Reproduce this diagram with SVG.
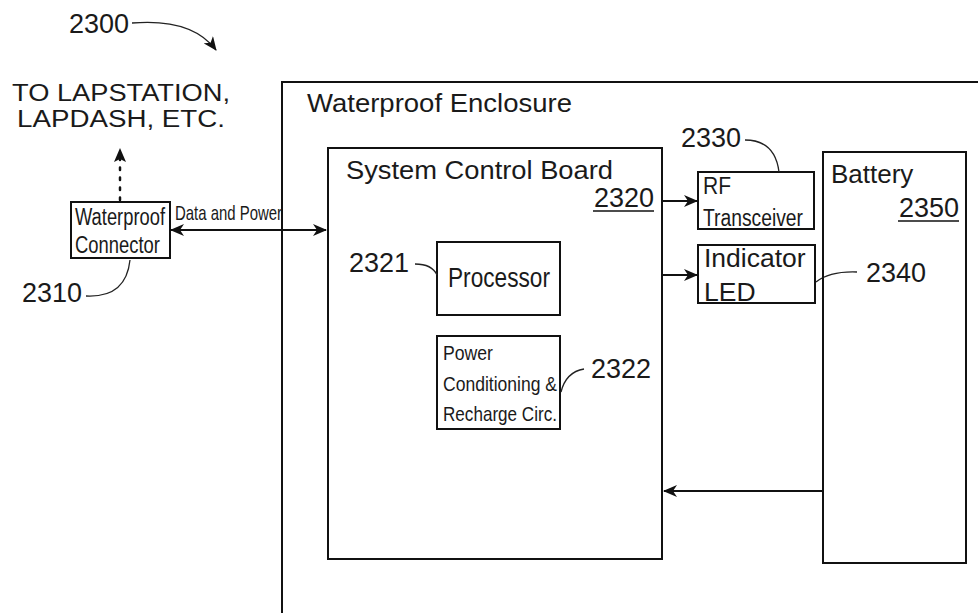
<svg xmlns="http://www.w3.org/2000/svg" width="978" height="613" viewBox="0 0 978 613">
<defs>
<style>
.box{fill:none;stroke:#111;stroke-width:2}
.t{font-family:"Liberation Sans",Arial,sans-serif;fill:#1a1a1a}
.lead{fill:none;stroke:#222;stroke-width:1.3}
.conn{fill:none;stroke:#111;stroke-width:2}
.u{stroke:#111;stroke-width:1.5}
</style>
<marker id="ah" viewBox="0 0 14 12" refX="13" refY="6" markerWidth="14" markerHeight="12" markerUnits="userSpaceOnUse" orient="auto-start-reverse">
<path d="M0,0 L14,6 L0,12 L4,6 Z" fill="#111"/>
</marker>
</defs>
<rect width="978" height="613" fill="#fff"/>

<g id="label-2300">
<text class="t" x="69" y="33" font-size="27">2300</text>
<path class="lead" d="M132,23 Q192,18 216,50" marker-end="url(#ah)"/>
</g>

<g id="to-lapstation">
<text class="t" x="12" y="101" font-size="23.5" textLength="218" lengthAdjust="spacingAndGlyphs">TO LAPSTATION,</text>
<text class="t" x="17" y="127" font-size="23.5" textLength="208" lengthAdjust="spacingAndGlyphs">LAPDASH, ETC.</text>
</g>

<g id="enclosure">
<rect class="box" x="282" y="82" width="720" height="560"/>
<text class="t" x="307" y="112" font-size="26" textLength="265" lengthAdjust="spacingAndGlyphs">Waterproof Enclosure</text>
</g>

<g id="connector-2310">
<rect class="box" x="71" y="202" width="99" height="56"/>
<text class="t" x="75" y="225" font-size="23" textLength="90" lengthAdjust="spacingAndGlyphs">Waterproof</text>
<text class="t" x="75" y="253" font-size="23" textLength="85" lengthAdjust="spacingAndGlyphs">Connector</text>
<text class="t" x="22" y="302" font-size="27">2310</text>
<path class="lead" d="M86,296 Q126,298 130,260"/>
</g>

<g id="scb-2320">
<rect class="box" x="328" y="148" width="334" height="411"/>
<text class="t" x="346" y="179" font-size="26.5" textLength="267" lengthAdjust="spacingAndGlyphs">System Control Board</text>
<text class="t" x="654" y="207" font-size="27" text-anchor="end">2320</text>
<line class="u" x1="593" y1="211" x2="654" y2="211"/>
</g>

<g id="processor-2321">
<rect class="box" x="437" y="242" width="123" height="73"/>
<text class="t" x="448" y="287" font-size="27" textLength="102" lengthAdjust="spacingAndGlyphs">Processor</text>
<text class="t" x="349" y="272" font-size="27">2321</text>
<path class="lead" d="M415,264 Q432,264 437,275"/>
</g>

<g id="power-2322">
<rect class="box" x="437" y="336" width="123" height="93"/>
<text class="t" x="443" y="360" font-size="21" textLength="50" lengthAdjust="spacingAndGlyphs">Power</text>
<text class="t" x="443" y="391" font-size="21" textLength="114" lengthAdjust="spacingAndGlyphs">Conditioning &amp;</text>
<text class="t" x="443" y="421" font-size="21" textLength="114" lengthAdjust="spacingAndGlyphs">Recharge Circ.</text>
<text class="t" x="591" y="378" font-size="27">2322</text>
<path class="lead" d="M584,369 Q566,372 561,392"/>
</g>

<g id="rf-2330">
<rect class="box" x="698" y="172" width="116" height="57"/>
<text class="t" x="703" y="194" font-size="23" textLength="28" lengthAdjust="spacingAndGlyphs">RF</text>
<text class="t" x="703" y="226" font-size="23" textLength="100" lengthAdjust="spacingAndGlyphs">Transceiver</text>
<text class="t" x="681" y="147" font-size="27">2330</text>
<path class="lead" d="M745,140 Q775,140 779,172"/>
</g>

<g id="led-2340">
<rect class="box" x="698" y="245" width="117" height="58"/>
<text class="t" x="704" y="267" font-size="26.5">Indicator</text>
<text class="t" x="704" y="301" font-size="26.5">LED</text>
<text class="t" x="866" y="282" font-size="27">2340</text>
<path class="lead" d="M816,282 Q830,271 857,272"/>
</g>

<g id="battery-2350">
<rect class="box" x="823" y="152" width="143" height="411"/>
<text class="t" x="831" y="183" font-size="26">Battery</text>
<text class="t" x="959" y="217" font-size="27" text-anchor="end">2350</text>
<line class="u" x1="898" y1="221" x2="959" y2="221"/>
</g>

<g id="connectors">
<line x1="120" y1="200" x2="120" y2="152" stroke="#111" stroke-width="2.5" stroke-dasharray="2.5,7.5" stroke-linecap="round"/>
<path d="M120,148 L126,162 L120,159 L114,162 Z" fill="#111"/>
<line class="conn" x1="171" y1="230" x2="326" y2="230" marker-start="url(#ah)" marker-end="url(#ah)"/>
<text class="t" x="175" y="220" font-size="21" textLength="107" lengthAdjust="spacingAndGlyphs">Data and Power</text>
<line class="conn" x1="662" y1="201" x2="697" y2="201" marker-end="url(#ah)"/>
<line class="conn" x1="662" y1="275" x2="697" y2="275" marker-end="url(#ah)"/>
<line class="conn" x1="823" y1="491" x2="664" y2="491" marker-end="url(#ah)"/>
</g>
</svg>
